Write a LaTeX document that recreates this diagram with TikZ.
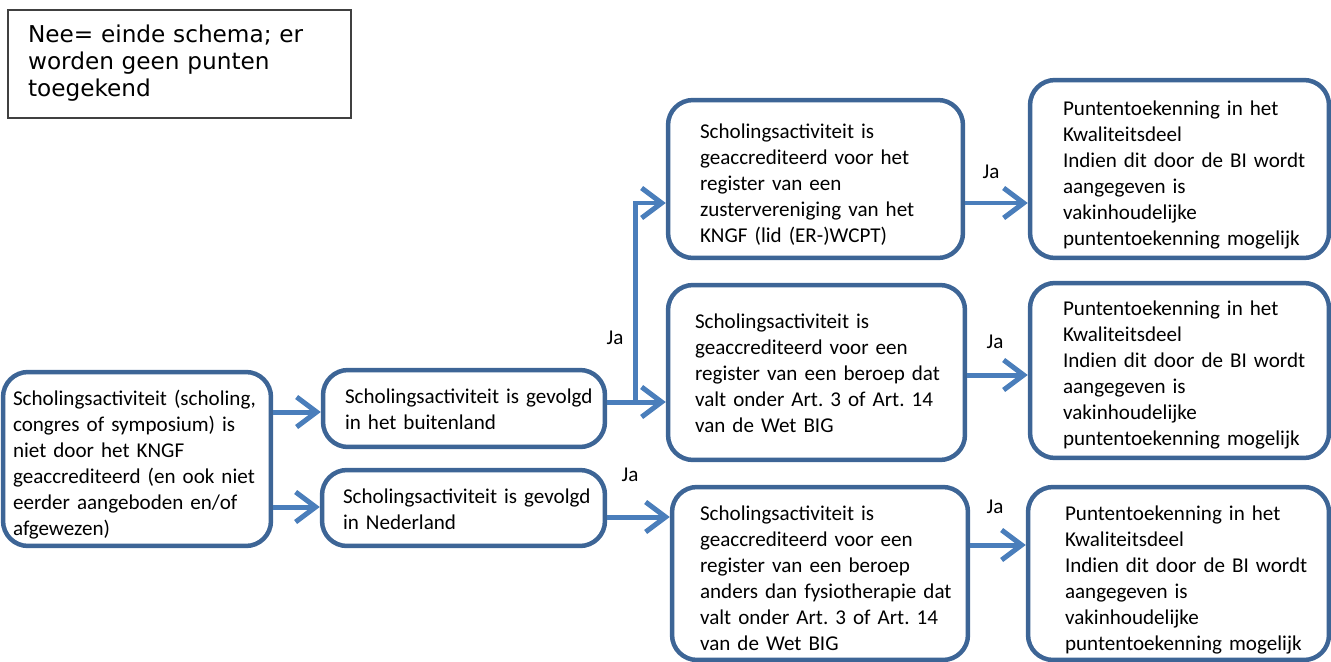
\documentclass[tikz,border=0pt]{standalone}
\usepackage{fontspec}
\setmainfont{Carlito}
\newfontfamily\notefont{DejaVu Sans}
\usetikzlibrary{arrows.meta}
\definecolor{boxblue}{HTML}{3D6596}
\definecolor{arrowblue}{HTML}{4A7EBB}
% lines of a box, with an optional gap on top
\newcommand{\rows}[2][0cm]{\raisebox{0pt}[\dimexpr\height+#1\relax][\depth]{\begin{tabular}{@{}l@{}}#2\end{tabular}}}
\frenchspacing
\tikzset{
  stepbox/.style={draw=boxblue, line width=0.09cm, rounded corners=0.5cm, fill=white, align=left,
    inner ysep=0pt, font=\fontsize{12}{14.8}\selectfont},
  notebox/.style={draw=black!75, line width=0.03cm, align=left, font=\notefont\fontsize{13.2}{15.3}\selectfont},
  flow/.style={draw=arrowblue, line width=0.1cm, -{Straight Barb[length=0.4cm,width=0.6cm]}},
  jalabel/.style={font=\fontsize{12}{14.8}\selectfont}
}

\begin{document}
\begin{tikzpicture}[x=0.02cm,y=-0.02cm]
\useasboundingbox (0,0) rectangle (1331,662);

\node[notebox, text width=6.06cm, inner xsep=0.4cm, minimum height=2.16cm] (note) at (179.5,64)
  {\rows{Nee= einde schema; er\\ worden geen punten\\ toegekend}};

\node[stepbox, text width=4.96cm, inner xsep=0.2cm, minimum height=3.48cm] (start) at (137,459)
  {\rows[0.24cm]{Scholingsactiviteit (scholing,\\ congres of symposium) is\\ niet door het KNGF\\ geaccrediteerd (en ook niet\\ eerder aangeboden en/of\\ afgewezen)}};
\node[stepbox, text width=4.76cm, inner xsep=0.44cm, minimum height=1.54cm] (buit) at (464,408.5)
  {\rows[0.1cm]{Scholingsactiviteit is gevolgd\\ in het buitenland}};
\node[stepbox, text width=4.82cm, inner xsep=0.42cm, minimum height=1.52cm] (ned) at (463.5,508)
  {\rows[0.12cm]{Scholingsactiviteit is gevolgd\\ in Nederland}};

\node[stepbox, text width=4.62cm, inner xsep=0.64cm, minimum height=3.16cm] (topmid) at (815.5,179)
  {\rows[0.26cm]{Scholingsactiviteit is\\ geaccrediteerd voor het\\ register van een\\ zustervereniging van het\\ KNGF (lid (ER-)WCPT)}};
\node[stepbox, text width=4.86cm, inner xsep=0.54cm, minimum height=3.5cm] (midmid) at (816.5,372.5)
  {\rows[0.12cm]{Scholingsactiviteit is\\ geaccrediteerd voor een\\ register van een beroep dat\\ valt onder Art. 3 of Art. 14\\ van de Wet BIG}};
\node[stepbox, text width=4.8cm, inner xsep=0.56cm, minimum height=3.46cm] (botmid) at (820,573.5)
  {\rows[0.28cm]{Scholingsactiviteit is\\ geaccrediteerd voor een\\ register van een beroep\\ anders dan fysiotherapie dat\\ valt onder Art. 3 of Art. 14\\ van de Wet BIG}};

\node[stepbox, text width=4.66cm, inner xsep=0.66cm, minimum height=3.56cm] (righttop) at (1179.5,169)
  {\rows[0.24cm]{Puntentoekenning in het\\ Kwaliteitsdeel\\ Indien dit door de BI wordt\\ aangegeven is\\ vakinhoudelijke\\ puntentoekenning mogelijk}};
\node[stepbox, text width=4.66cm, inner xsep=0.66cm, minimum height=3.5cm] (rightmid) at (1179.5,370.5)
  {\rows[0.18cm]{Puntentoekenning in het\\ Kwaliteitsdeel\\ Indien dit door de BI wordt\\ aangegeven is\\ vakinhoudelijke\\ puntentoekenning mogelijk}};
\node[stepbox, text width=4.54cm, inner xsep=0.74cm, minimum height=3.46cm] (rightbot) at (1178.5,573.5)
  {\rows[0.26cm]{Puntentoekenning in het\\ Kwaliteitsdeel\\ Indien dit door de BI wordt\\ aangegeven is\\ vakinhoudelijke\\ puntentoekenning mogelijk}};

\coordinate (split) at (635,402);

\draw[flow] (start.east |- 0,412) -- (buit.west |- 0,412);
\draw[flow] (start.east |- 0,507) -- (ned.west |- 0,507);
\draw[flow] (buit.east |- split) -- (midmid.west |- split);
\draw[flow] (split) |- (topmid.west |- 0,203);
\draw[flow] (ned.east |- 0,517) -- (botmid.west |- 0,517);
\draw[flow] (topmid.east |- 0,203) -- (righttop.west |- 0,203);
\draw[flow] (midmid.east |- 0,375) -- (rightmid.west |- 0,375);
\draw[flow] (botmid.east |- 0,545) -- (rightbot.west |- 0,545);

\node[jalabel] (ja1) at (615,338) {Ja};
\node[jalabel] (ja2) at (630,475) {Ja};
\node[jalabel] (ja3) at (991,172) {Ja};
\node[jalabel] (ja4) at (995,342) {Ja};
\node[jalabel] (ja5) at (995,507) {Ja};
\end{tikzpicture}
\end{document}
